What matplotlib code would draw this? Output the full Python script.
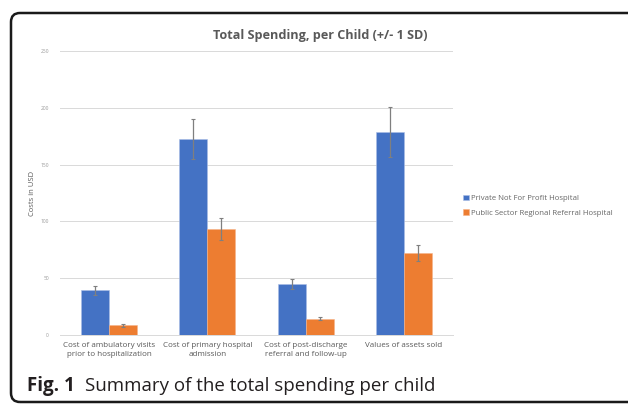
import matplotlib.pyplot as plt
import numpy as np
from matplotlib.patches import FancyBboxPatch

categories = ["Cost of ambulatory visits\nprior to hospitalization",
              "Cost of primary hospital\nadmission",
              "Cost of post-discharge\nreferral and follow-up",
              "Values of assets sold"]
series_names = ["Private Not For Profit Hospital",
                "Public Sector Regional Referral Hospital"]
private_vals = [39.3, 172.5, 44.6, 179.0]
private_sd = [4.1, 17.3, 4.4, 22.0]
public_vals = [8.5, 93.3, 14.4, 72.2]
public_sd = [1.3, 9.5, 1.5, 7.0]
yticks = [0, 50, 100, 150, 200, 250]

plt.rcParams['font.family'] = ['Open Sans', 'DejaVu Sans']

W, H = 628, 404
fig = plt.figure(figsize=(W / 100, H / 100), dpi=100)

# rounded frame around the figure panel (inches)
frame = FancyBboxPatch((0.11, 0.02), 6.4, 3.89,
                       boxstyle="round,pad=0,rounding_size=0.09",
                       transform=fig.dpi_scale_trans, fill=False,
                       edgecolor='#1a1a1a', linewidth=1.8, clip_on=False)
fig.patches.append(frame)

ax = fig.add_axes([60 / W, (H - 335) / H, (453 - 60) / W, (335 - 51) / H])
x = np.arange(len(categories))
w = 0.285
err_kw = dict(ecolor='#7f7f7f', elinewidth=0.9, capsize=1.5, capthick=0.8)
ax.bar(x - w / 2, private_vals, w, yerr=private_sd, color='#4472C4',
       edgecolor='#a9bde6', linewidth=0.4, label=series_names[0],
       error_kw=err_kw, zorder=3)
ax.bar(x + w / 2, public_vals, w, yerr=public_sd, color='#ED7D31',
       edgecolor='#f5b48a', linewidth=0.4, label=series_names[1],
       error_kw=err_kw, zorder=3)

ax.set_xlim(-0.5, len(categories) - 0.5)
ax.set_ylim(0, 250)
ax.set_yticks(yticks)
ax.set_xticks(x)
ax.set_xticklabels(categories, fontsize=5.8, color='#595959', linespacing=1.45)
ax.tick_params(axis='y', labelsize=3.5, colors='#999999', length=0, pad=8)
ax.tick_params(axis='x', length=0, pad=5)
ax.grid(axis='y', color='#d9d9d9', linewidth=0.7, zorder=0)
for s in ['top', 'right', 'left']:
    ax.spines[s].set_visible(False)
ax.spines['bottom'].set_color('#d9d9d9')
ax.spines['bottom'].set_linewidth(0.7)
ax.set_ylabel("Costs in USD", fontsize=5.5, color='#595959', labelpad=3)

fig.text(320 / W, (H - 35) / H, "Total Spending, per Child (+/- 1 SD)",
         ha='center', va='center', fontsize=9.1, fontweight='bold',
         color='#595959')

ax.legend(loc='center left', bbox_to_anchor=(1.012, 0.455), frameon=False,
          fontsize=5.6, labelcolor='#666666', handlelength=0.7,
          handleheight=0.7, handletextpad=0.3, labelspacing=0.9,
          borderaxespad=0.3)

fig.text(27 / W, (H - 386) / H, "Fig. 1", ha='left', va='center',
         fontsize=13.5, fontweight='bold', color='#231f20')
fig.text(85 / W, (H - 386) / H, "Summary of the total spending per child",
         ha='left', va='center', fontsize=13.5, color='#231f20')

fig.savefig("out.png", dpi=100)
